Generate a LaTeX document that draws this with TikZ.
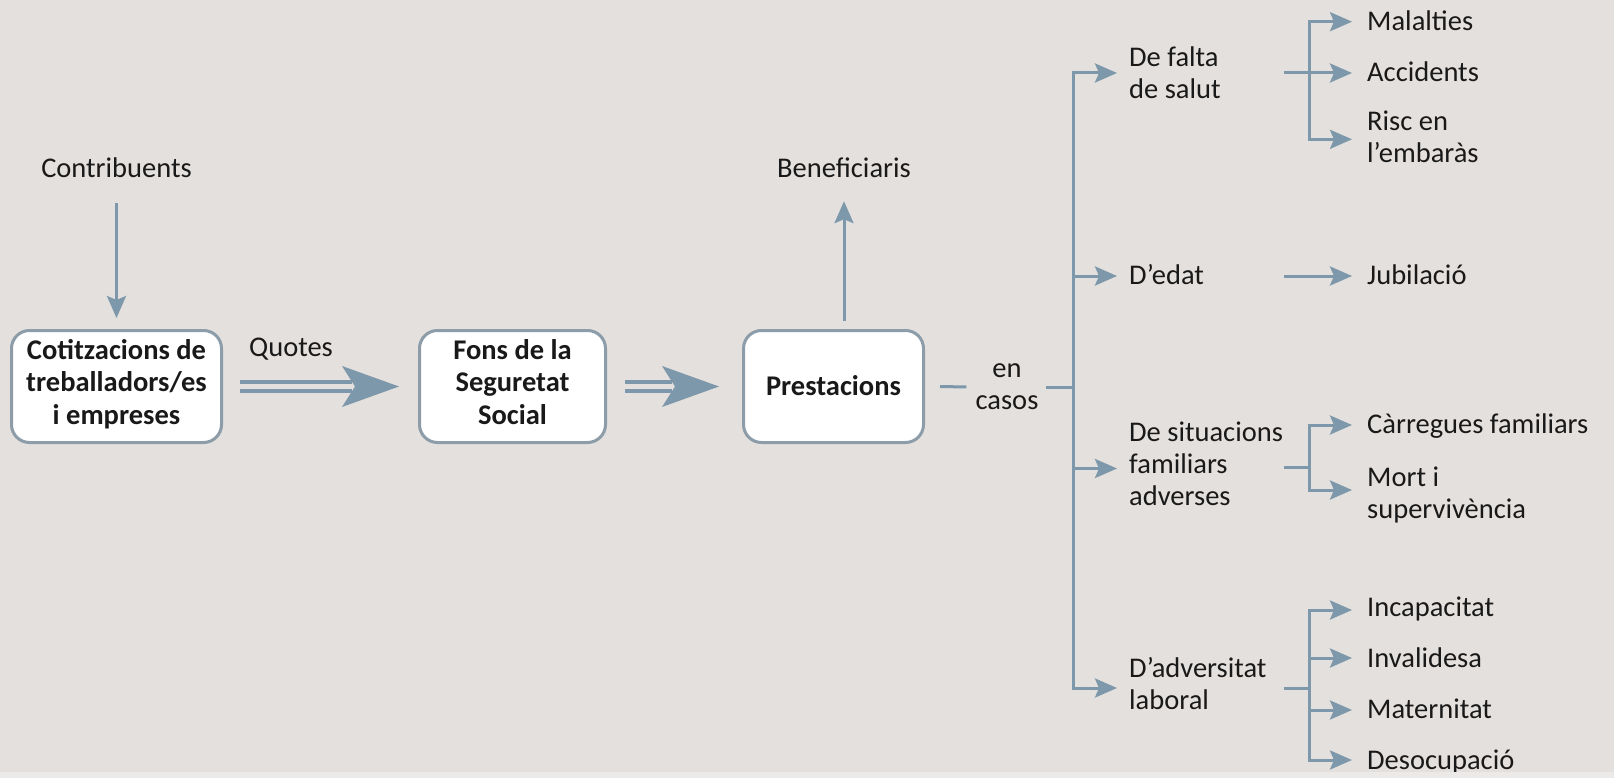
\documentclass[tikz,border=0pt]{standalone}
\usepackage{fontspec}
\setmainfont{Carlito}
\usetikzlibrary{arrows.meta}
\definecolor{bg}{RGB}{228,224,221}
\definecolor{bgstrip}{RGB}{236,234,232}
\definecolor{arrcol}{RGB}{124,152,170}
\definecolor{boxline}{RGB}{140,156,168}
\definecolor{txt}{RGB}{25,25,25}
% double-shafted broad arrow: #1 start, #2 tip (coordinate names)
\newcommand\bigarrow[2]{%
  \draw[dblline] ([yshift=4.5pt]#1) -- ([xshift=-47pt,yshift=4.5pt]#2);
  \draw[dblline] ([yshift=-4.5pt]#1) -- ([xshift=-47pt,yshift=-4.5pt]#2);
  \fill[arrcol] (#2) -- ([xshift=-57pt,yshift=20.5pt]#2) -- ([xshift=-44pt]#2)
    -- ([xshift=-57pt,yshift=-20.5pt]#2) -- cycle;}
\begin{document}
\begin{tikzpicture}[x=1pt,y=-1pt,
  every node/.style={text=txt, font=\fontsize{28.5}{32}\selectfont},
  lbl/.style={inner sep=0pt, anchor=west, align=left,
    execute at begin node=\strut, execute at end node=\strut},
  box/.style={draw=boxline, line width=3pt, fill=white, rounded corners=18pt,
    align=center, inner sep=0pt,
    font=\fontsize{28.5}{32.5}\selectfont\bfseries,
    execute at begin node=\rule{0pt}{27.75pt}, execute at end node=\strut},
  arr/.style={draw=arrcol, line width=3pt, line join=miter,
    -{Stealth[length=22pt,width=19pt,inset=4pt]}},
  ln/.style={draw=arrcol, line width=3pt},
  dblline/.style={draw=arrcol, line width=4pt},
]
\fill[bg] (0,0) rectangle (1614,778);
\useasboundingbox (0,0) rectangle (1614,778);

% main boxes
\node[box, minimum width=210pt, minimum height=112pt] (c1) at (116.5,386.5) {Cotitzacions de\\treballadors/es\\i empreses};
\node[box, minimum width=186pt, minimum height=112pt] (f) at (512.5,386.5) {Fons de la\\Seguretat\\Social};
\node[box, minimum width=180pt, minimum height=112pt] (p) at (833.5,386.5) {Prestacions};

% labels
\node[lbl, anchor=center] (contrib) at (116.5,171) {Contribuents};
\node[lbl, anchor=center] (benef) at (844,171) {Beneficiaris};
\node[lbl, anchor=center] (quotes) at (291,350) {Quotes};
\node[lbl, anchor=center, align=center] (casos) at (1007,391) {en\\casos};

% vertical arrows
\draw[arr] ([yshift=-16pt]contrib.south) -- ([yshift=11pt]c1.north);
\coordinate (bup) at (p.north -| benef.south);
\draw[arr] ([yshift=8pt]bup) -- ([yshift=-14pt]benef.south);

% broad arrows
\coordinate (a1s) at ([xshift=17pt]c1.east);
\coordinate (a1e) at ([xshift=-19pt]f.west);
\bigarrow{a1s}{a1e}
\coordinate (a2s) at ([xshift=18pt]f.east);
\coordinate (a2e) at ([xshift=-23pt]p.west);
\bigarrow{a2s}{a2e}

% en casos connectors
\coordinate (trunk) at (1073,387);
\coordinate (cl) at ([xshift=-9pt]casos.west |- trunk);
\coordinate (cr) at ([xshift=7pt]casos.east |- trunk);
\draw[ln] ([xshift=15pt]p.east) -- (cl);
\draw[ln] (cr) -- (trunk);

% categories
\node[lbl] (falta) at (1129,77.5) {De falta\\de salut};
\node[lbl] (edat) at (1129,278.5) {D’edat};
\node[lbl] (sit) at (1129,468.5) {De situacions\\familiars\\adverses};
\node[lbl] (adv) at (1129,688) {D’adversitat\\laboral};

\draw[arr] (trunk) |- ([xshift=-12pt,yshift=4.5pt]falta.west);
\draw[arr] (trunk) |- ([xshift=-12pt,yshift=2.5pt]edat.west);
\draw[arr] (trunk) |- ([xshift=-12pt]sit.west);
\draw[arr] (trunk) |- ([xshift=-12pt]adv.west);

% sub-items
\node[lbl] (mal) at (1367,24) {Malalties};
\node[lbl] (acc) at (1367,75.5) {Accidents};
\node[lbl] (risc) at (1367,141.3) {Risc en\\l’embaràs};
\node[lbl] (jub) at (1367,278.5) {Jubilació};
\node[lbl] (carr) at (1367,426.6) {Càrregues familiars};
\node[lbl] (mort) at (1367,497.6) {Mort i\\supervivència};
\node[lbl] (inc) at (1367,610.5) {Incapacitat};
\node[lbl] (inv) at (1367,661) {Invalidesa};
\node[lbl] (mat) at (1367,712) {Maternitat};
\node[lbl] (deso) at (1367,763.5) {Desocupació};

% group 1
\coordinate (s1) at (1284,73);
\coordinate (j1) at (1309,73);
\draw[arr] (s1) -- ([xshift=-15pt,yshift=2.5pt]acc.west);
\draw[arr] (j1) |- ([xshift=-15pt,yshift=2.3pt]mal.west);
\draw[arr] (j1) |- ([xshift=-15pt,yshift=2pt]risc.west);
% group 2
\coordinate (s2) at (1284,276);
\draw[arr] (s2) -- ([xshift=-15pt,yshift=2.5pt]jub.west);
% group 3
\coordinate (s3) at (1284,467.5);
\coordinate (j3) at (1309,467.5);
\draw[ln] (s3) -- (j3);
\draw[arr] (j3) |- ([xshift=-15pt,yshift=1.6pt]carr.west);
\draw[arr] (j3) |- ([xshift=-15pt,yshift=7.6pt]mort.west);
% group 4
\coordinate (s4) at (1284,688);
\coordinate (j4) at (1309,688);
\draw[ln] (s4) -- (j4);
\draw[arr] (j4) |- ([xshift=-15pt,yshift=0.5pt]inc.west);
\draw[arr] (j4) |- ([xshift=-15pt,yshift=3pt]inv.west);
\draw[arr] (j4) |- ([xshift=-15pt,yshift=2pt]mat.west);
\draw[arr] (j4) |- ([xshift=-15pt,yshift=3.5pt]deso.west);

\fill[bgstrip] (0,772) rectangle (1614,778);
\end{tikzpicture}
\end{document}
